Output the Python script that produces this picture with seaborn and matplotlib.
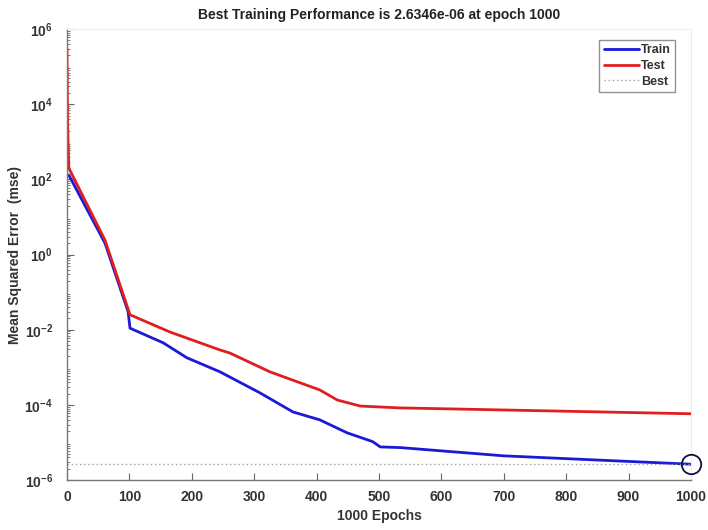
import numpy as np
import pandas as pd
import matplotlib
matplotlib.use("Agg")
import matplotlib.pyplot as plt
from matplotlib.ticker import LogLocator, FixedLocator
from matplotlib.lines import Line2D
import seaborn as sns

# Training curve (mean squared error per epoch)
train_epochs = [0, 3, 61, 98, 101, 154, 192, 245, 309, 362, 405, 449, 490, 502, 534, 700, 1000]
train_mse = [1.3e2, 1.3e2, 2.0, 3.0e-2, 1.1e-2, 4.5e-3, 1.8e-3, 7.6e-4, 2.1e-4, 6.5e-5,
             4.0e-5, 1.8e-5, 1.05e-5, 7.6e-6, 7.3e-6, 4.4e-6, 2.6346e-6]

# Test curve
test_epochs = [0, 1, 3, 61, 101, 165, 245, 261, 325, 405, 433, 470, 534, 600, 1000]
test_mse = [3.1e5, 3.0e3, 2.0e2, 2.4, 2.5e-2, 8.7e-3, 2.9e-3, 2.4e-3, 7.6e-4, 2.5e-4,
            1.35e-4, 9.3e-5, 8.3e-5, 7.9e-5, 5.8e-5]

best_epoch = 1000
best_mse = 2.6346e-6

x_ticks = [0, 100, 200, 300, 400, 500, 600, 700, 800, 900, 1000]
y_ticks = [1e-6, 1e-4, 1e-2, 1e0, 1e2, 1e4, 1e6]
y_tick_labels = ["$10^{-6}$", "$10^{-4}$", "$10^{-2}$", "$10^{0}$", "$10^{2}$", "$10^{4}$", "$10^{6}$"]

sns.set_style("white")
plt.rcParams["font.family"] = ["Liberation Sans", "DejaVu Sans"]
plt.rcParams["mathtext.fontset"] = "custom"
plt.rcParams["mathtext.rm"] = "Liberation Sans:bold"
plt.rcParams["mathtext.bf"] = "Liberation Sans:bold"
plt.rcParams["mathtext.default"] = "bf"
plt.rcParams["axes.unicode_minus"] = False

df = pd.concat([
    pd.DataFrame({"Epoch": train_epochs, "MSE": train_mse, "Set": "Train"}),
    pd.DataFrame({"Epoch": test_epochs, "MSE": test_mse, "Set": "Test"}),
])

fig = plt.figure(figsize=(7.08, 5.30), dpi=100)
ax = fig.add_axes([0.0946, 0.0943, 0.8814, 0.8507])

sns.lineplot(data=df, x="Epoch", y="MSE", hue="Set", palette={"Train": "#1a1ad6", "Test": "#e01e1e"},
             linewidth=2.0, ax=ax, legend=False, sort=False, estimator=None)
ax.axhline(best_mse, color="#9aa89a", linestyle=(0, (1, 2)), linewidth=1.0)
ax.plot([best_epoch], [best_mse], marker="o", markersize=14, markerfacecolor="none",
        markeredgecolor="#101040", markeredgewidth=1.3, linestyle="none", clip_on=False, zorder=5)

ax.set_yscale("log")
ax.set_xlim(0, 1000)
ax.set_ylim(1e-6, 1e6)
ax.yaxis.set_major_locator(FixedLocator(y_ticks))
ax.set_yticklabels(y_tick_labels)
ax.yaxis.set_minor_locator(LogLocator(base=10, subs=np.arange(2, 10) * 1.0, numticks=50))
ax.set_xticks(x_ticks)
ax.set_xticklabels([str(t) for t in x_ticks])

ax.tick_params(axis="both", which="both", direction="in", colors="#666666",
               labelcolor="#333333", labelsize=10, left=True, bottom=True)
ax.tick_params(axis="x", which="major", length=5, pad=7)
ax.tick_params(axis="y", which="major", length=5, pad=10)
ax.tick_params(axis="y", which="minor", length=2.5)
for lbl in ax.get_xticklabels():
    lbl.set_fontweight("bold")

for side in ["left", "bottom"]:
    ax.spines[side].set_color("#777777")
    ax.spines[side].set_linewidth(1.0)
for side in ["right", "top"]:
    ax.spines[side].set_color("#eeeeee")
    ax.spines[side].set_linewidth(0.8)

ax.set_xlabel("1000 Epochs", fontsize=10, fontweight="bold", color="#333333", labelpad=4)
ax.set_ylabel("Mean Squared Error  (mse)", fontsize=10, fontweight="bold", color="#333333", labelpad=2)
ax.set_title(f"Best Training Performance is {best_mse:.4e} at epoch {best_epoch}",
             fontsize=10, fontweight="bold", color="#222222", pad=7)

handles = [Line2D([], [], color="#1a1ad6", lw=2.0),
           Line2D([], [], color="#e01e1e", lw=2.0),
           Line2D([], [], color="#9aa89a", lw=1.0, linestyle=(0, (1, 2)))]
leg = ax.legend(handles, ["Train", "Test", "Best"], loc="upper right", bbox_to_anchor=(0.985, 0.99),
                frameon=True, fancybox=False, fontsize=9, handlelength=2.8, handletextpad=0.2,
                borderpad=0.35, labelspacing=0.3)
leg.get_frame().set_edgecolor("#777777")
leg.get_frame().set_linewidth(1.0)
for t in leg.get_texts():
    t.set_fontweight("bold")
    t.set_color("#333333")

fig.savefig("out.png", dpi=100)
